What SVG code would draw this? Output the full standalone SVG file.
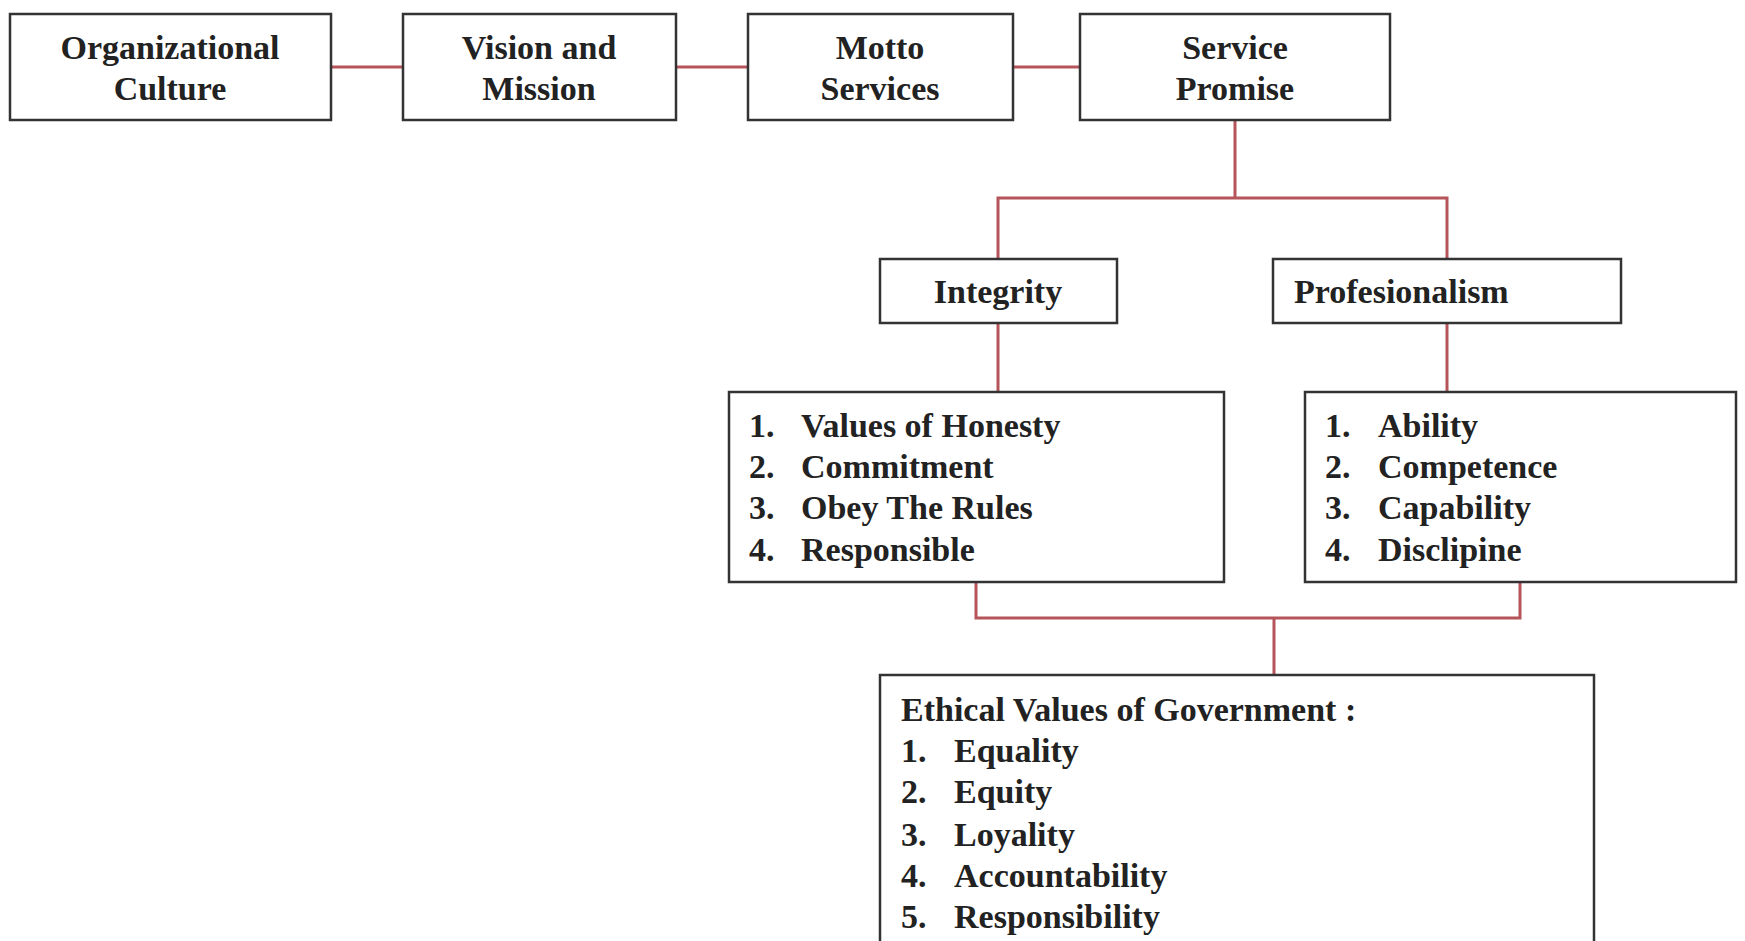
<svg xmlns="http://www.w3.org/2000/svg" width="1745" height="941" viewBox="0 0 1745 941">
<style>
.box{fill:#fff;stroke:#333;stroke-width:2.5}
.t{font-family:"Liberation Serif","Times New Roman",serif;font-weight:bold;font-size:34px;fill:#222}
.c{text-anchor:middle}
.con{fill:none;stroke:#b5545a;stroke-width:3}
</style>
<rect width="1745" height="941" fill="#fff"/>
<g id="connectors">
<path class="con" d="M331 67H403M676 67H748M1013 67H1080"/>
<path class="con" d="M1235 120V198M998 259V198H1447V259"/>
<path class="con" d="M998 323V392M1447 323V392"/>
<path class="con" d="M976 582V618H1520V582M1274 618V675"/>
</g>
<g id="org"><rect class="box" x="10" y="14" width="321" height="106"/>
<text class="t c" x="170" y="59">Organizational</text><text class="t c" x="170" y="100">Culture</text></g>
<g id="vision"><rect class="box" x="403" y="14" width="273" height="106"/>
<text class="t c" x="539" y="59">Vision and</text><text class="t c" x="539" y="100">Mission</text></g>
<g id="motto"><rect class="box" x="748" y="14" width="265" height="106"/>
<text class="t c" x="880" y="59">Motto</text><text class="t c" x="880" y="100">Services</text></g>
<g id="promise"><rect class="box" x="1080" y="14" width="310" height="106"/>
<text class="t c" x="1235" y="59">Service</text><text class="t c" x="1235" y="100">Promise</text></g>
<g id="integrity"><rect class="box" x="880" y="259" width="237" height="64"/>
<text class="t c" x="998" y="303">Integrity</text></g>
<g id="profesionalism"><rect class="box" x="1273" y="259" width="348" height="64"/>
<text class="t" x="1294" y="303">Profesionalism</text></g>
<g id="integrity-list"><rect class="box" x="729" y="392" width="495" height="190"/>
<text class="t" x="749" y="437">1.</text><text class="t" x="801" y="437">Values of Honesty</text>
<text class="t" x="749" y="478">2.</text><text class="t" x="801" y="478">Commitment</text>
<text class="t" x="749" y="519">3.</text><text class="t" x="801" y="519">Obey The Rules</text>
<text class="t" x="749" y="561">4.</text><text class="t" x="801" y="561">Responsible</text></g>
<g id="prof-list"><rect class="box" x="1305" y="392" width="431" height="190"/>
<text class="t" x="1325" y="437">1.</text><text class="t" x="1378" y="437">Ability</text>
<text class="t" x="1325" y="478">2.</text><text class="t" x="1378" y="478">Competence</text>
<text class="t" x="1325" y="519">3.</text><text class="t" x="1378" y="519">Capability</text>
<text class="t" x="1325" y="561">4.</text><text class="t" x="1378" y="561">Disclipine</text></g>
<g id="ethics"><rect class="box" x="880" y="675" width="714" height="290"/>
<text class="t" x="901" y="721">Ethical Values of Government :</text>
<text class="t" x="901" y="762">1.</text><text class="t" x="954" y="762">Equality</text>
<text class="t" x="901" y="803">2.</text><text class="t" x="954" y="803">Equity</text>
<text class="t" x="901" y="846">3.</text><text class="t" x="954" y="846">Loyality</text>
<text class="t" x="901" y="887">4.</text><text class="t" x="954" y="887">Accountability</text>
<text class="t" x="901" y="928">5.</text><text class="t" x="954" y="928">Responsibility</text></g>
</svg>
